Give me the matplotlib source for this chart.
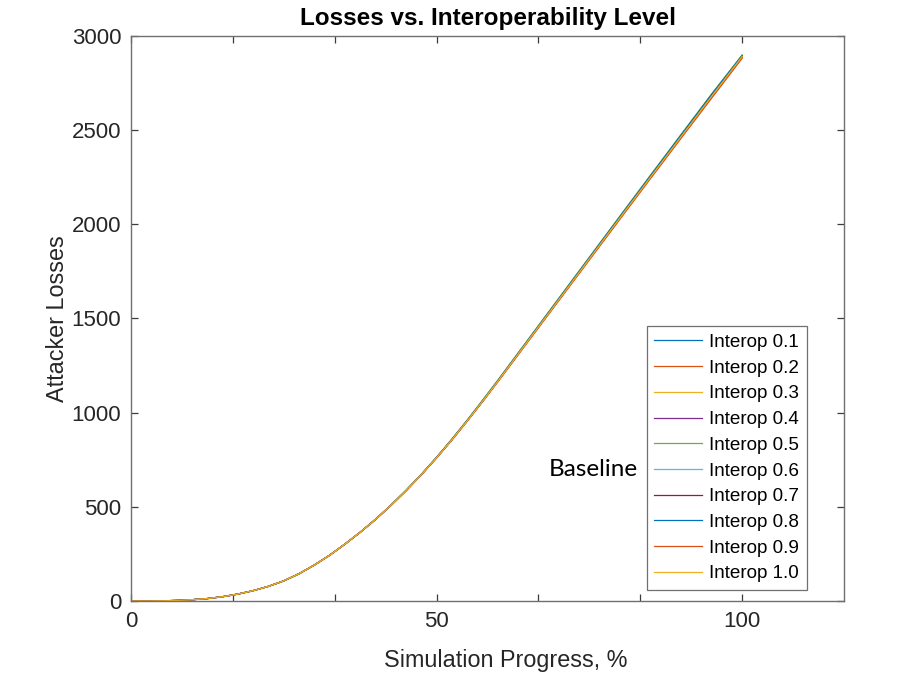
import matplotlib
matplotlib.use("Agg")
import matplotlib.pyplot as plt
import numpy as np

plt.rcParams["font.family"] = ["Liberation Sans", "DejaVu Sans"]

# simulation progress (%) at which losses were sampled
progress = [0, 2.5, 5, 7.5, 10, 12.5, 15, 17.5, 20, 22.5, 25, 27.5, 30, 32.5, 35, 37.5,
            40, 42.5, 45, 47.5, 50, 52.5, 55, 57.5, 60, 65, 70, 75, 80, 85, 90, 95, 100]

# attacker losses per interoperability level
interop_01 = [0, 0, 1, 3, 7, 13, 23, 37, 55, 78, 107, 145, 191, 243, 302, 365,
              433, 507, 586, 671, 761, 856, 957, 1061, 1168, 1386, 1604, 1822, 2039, 2256, 2472, 2688, 2896]
interop_02 = [0, 0, 1, 3, 7, 13, 23, 37, 55, 78, 107, 145, 191, 243, 302, 365,
              433, 507, 586, 670, 760, 855, 955, 1058, 1164, 1380, 1597, 1813, 2030, 2245, 2459, 2672, 2884]
interop_03 = [0, 0, 1, 3, 7, 13, 23, 37, 55, 78, 107, 145, 191, 243, 302, 365,
              433, 507, 586, 671, 761, 856, 956, 1060, 1166, 1383, 1600, 1817, 2034, 2250, 2465, 2679, 2892]
interop_04 = [0, 0, 1, 3, 7, 13, 23, 37, 55, 78, 107, 145, 191, 243, 302, 365,
              433, 507, 587, 672, 762, 857, 957, 1061, 1167, 1385, 1602, 1819, 2036, 2252, 2467, 2681, 2893]
interop_05 = [0, 0, 1, 3, 7, 13, 23, 37, 55, 78, 107, 145, 191, 243, 302, 365,
              434, 508, 588, 673, 764, 860, 961, 1065, 1172, 1390, 1608, 1826, 2044, 2261, 2477, 2692, 2899]
interop_06 = [0, 0, 1, 3, 7, 13, 23, 37, 55, 78, 107, 145, 191, 243, 302, 365,
              433, 507, 586, 671, 761, 857, 957, 1061, 1167, 1384, 1601, 1818, 2035, 2251, 2466, 2680, 2893]
interop_07 = [0, 0, 1, 3, 7, 13, 23, 37, 55, 78, 107, 145, 191, 243, 302, 365,
              433, 507, 586, 671, 761, 856, 956, 1059, 1165, 1382, 1598, 1815, 2032, 2248, 2463, 2677, 2890]
interop_08 = [0, 0, 1, 3, 7, 13, 23, 37, 55, 78, 107, 145, 191, 243, 302, 365,
              433, 507, 586, 671, 762, 858, 958, 1063, 1169, 1387, 1605, 1823, 2041, 2258, 2474, 2689, 2897]
interop_09 = [0, 0, 1, 3, 7, 13, 23, 37, 55, 78, 107, 145, 191, 243, 302, 365,
              433, 507, 586, 670, 760, 854, 954, 1057, 1163, 1379, 1595, 1811, 2027, 2243, 2457, 2670, 2882]
interop_10 = [0, 0, 1, 3, 7, 13, 23, 37, 55, 78, 107, 145, 191, 243, 302, 365,
              433, 507, 586, 671, 761, 856, 956, 1060, 1166, 1383, 1600, 1817, 2034, 2250, 2465, 2679, 2891]

series_labels = ["Interop 0.1", "Interop 0.2", "Interop 0.3", "Interop 0.4", "Interop 0.5",
                 "Interop 0.6", "Interop 0.7", "Interop 0.8", "Interop 0.9", "Interop 1.0"]
series_values = [interop_01, interop_02, interop_03, interop_04, interop_05,
                 interop_06, interop_07, interop_08, interop_09, interop_10]

# MATLAB default line colour order
line_colors = [
    (0.000, 0.447, 0.741),
    (0.850, 0.325, 0.098),
    (0.929, 0.694, 0.125),
    (0.494, 0.184, 0.556),
    (0.466, 0.674, 0.188),
    (0.301, 0.745, 0.933),
    (0.635, 0.078, 0.184),
]

fig = plt.figure(figsize=(9.2, 6.75), dpi=100)
ax = fig.add_axes([0.1424, 0.1096, 0.775, 0.8371])

for i, (label, values) in enumerate(zip(series_labels, series_values)):
    ax.plot(progress, values, color=line_colors[i % len(line_colors)], linewidth=0.9, label=label)

ax.set_xlim(0, 700 / 6)
ax.set_ylim(0, 3000)
xticks = np.arange(7) * 100 / 6
ax.set_xticks(xticks)
ax.set_xticklabels(["0", "", "", "50", "", "", "100"])
ax.set_yticks(np.arange(0, 3001, 500))

text_color = "#262626"
for spine in ax.spines.values():
    spine.set_color("#707070")
    spine.set_linewidth(1.0)
ax.tick_params(direction="in", length=5, width=0.9, color="#3c3c3c", labelcolor=text_color,
               labelsize=16, top=True, right=True, pad=7)

ax.set_xlabel("Simulation Progress, %", fontsize=16.8, color=text_color, labelpad=12)
ax.xaxis.set_label_coords(0.525, -0.085)
ax.set_ylabel("Attacker Losses", fontsize=16.8, color=text_color, labelpad=2)
ax.set_title("Losses vs. Interoperability Level", fontsize=17.5, fontweight="bold", pad=8)

legend = ax.legend(loc="lower right", bbox_to_anchor=(0.948, 0.0195), borderaxespad=0,
                   fontsize=13.6, handlelength=2.55, labelspacing=0.45, handletextpad=0.37,
                   borderpad=0.4, fancybox=False, framealpha=1, edgecolor="#707070")
legend.get_frame().set_linewidth(0.9)

ax.text(68.4, 696, "Baseline", fontsize=17.5, family=["Lato", "DejaVu Sans"],
        ha="left", va="center", color="black")

fig.savefig("out.png", dpi=100)
